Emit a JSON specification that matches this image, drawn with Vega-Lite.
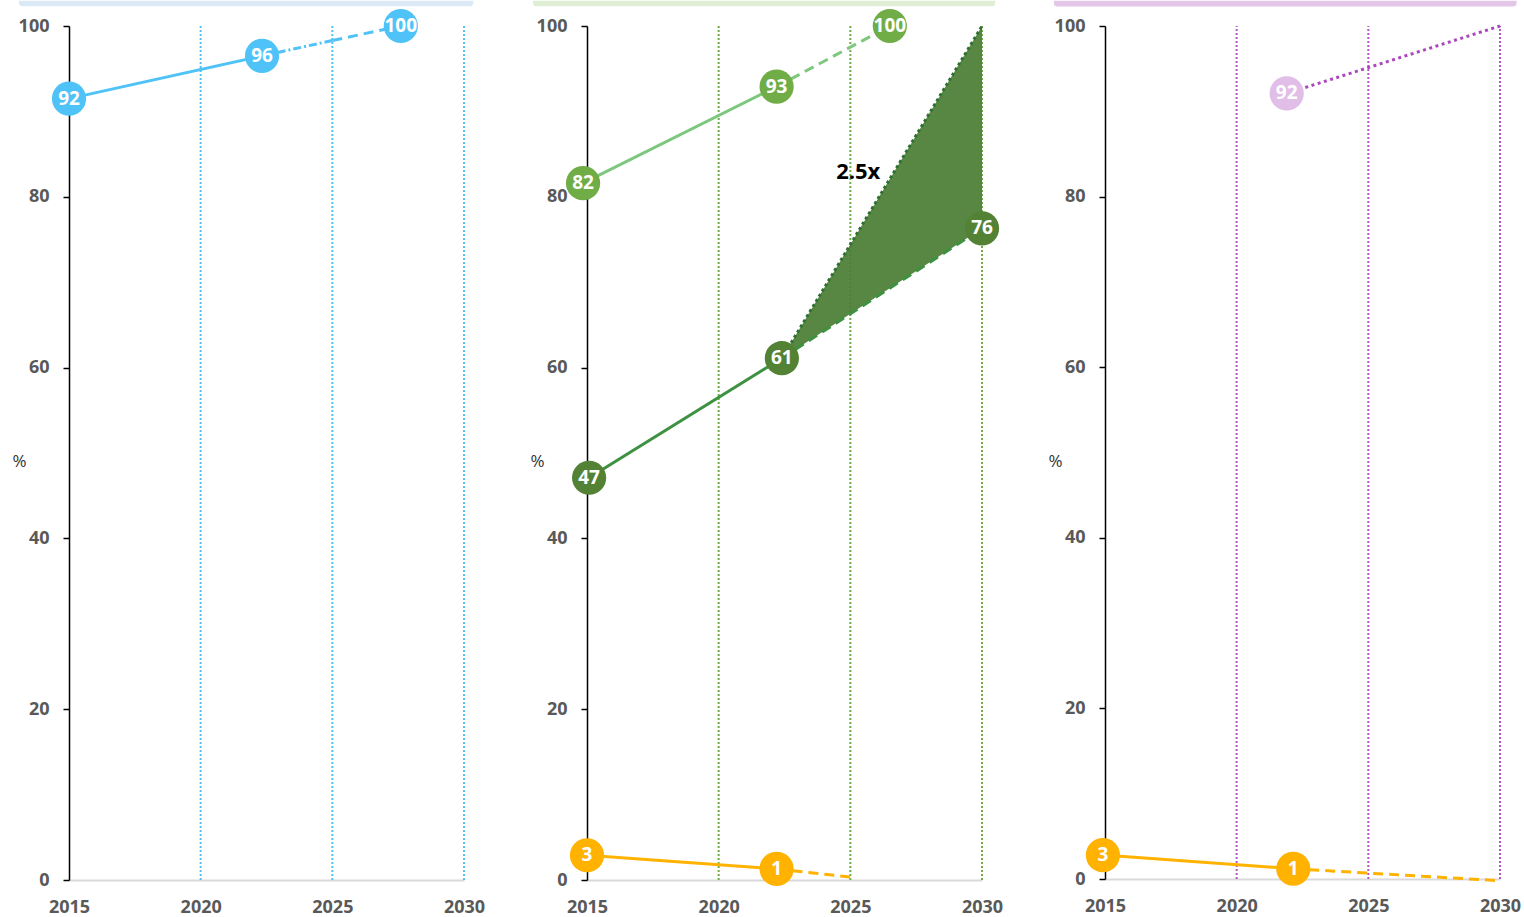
{
  "$schema": "https://vega.github.io/schema/vega-lite/v6.json",
  "background": "white",
  "padding": {"left": 11, "top": 0, "right": 0, "bottom": 0},
  "bounds": "flush",
  "spacing": 123,
  "config": {
    "view": {"stroke": null},
    "font": "Open Sans",
    "axisX": {"labelFontSize": 18, "labelFontWeight": "bold", "labelColor": "#595959", "domainColor": "#d9d9d9", "domainWidth": 2, "ticks": false, "tickSize": 0, "grid": false, "labelPadding": 18, "labelFlush": false, "title": null},
    "axisY": {"labelFontSize": 18, "labelFontWeight": "bold", "labelColor": "#595959", "domainColor": "#000000", "domainWidth": 1.5, "tickColor": "#000000", "tickSize": 6, "tickWidth": 1.5, "labelPadding": 14, "grid": false, "titleAngle": 0, "titleX": -50, "titleY": 435, "titleFontSize": 17, "titleFontWeight": "normal", "titleColor": "#333333", "titleAlign": "center", "titleBaseline": "middle"}
  },
  "datasets": {
    "p1": [
      {"seg": "strip", "year": 2013.1, "year2": 2030.35, "v": 102.3, "v2": 102.95},
      {"seg": "grid", "year": 2020, "v": 0, "v2": 100},
      {"seg": "grid", "year": 2025, "v": 0, "v2": 100},
      {"seg": "grid", "year": 2030, "v": 0, "v2": 100},
      {"seg": "solid", "year": 2015, "v": 91.5},
      {"seg": "solid", "year": 2022.33, "v": 96.5},
      {"seg": "dashdot", "year": 2022.33, "v": 96.5},
      {"seg": "dashdot", "year": 2025, "v": 98.3},
      {"seg": "dash", "year": 2025, "v": 98.3},
      {"seg": "dash", "year": 2027.6, "v": 100},
      {"seg": "pt", "year": 2015, "v": 91.5, "label": "92"},
      {"seg": "pt", "year": 2022.33, "v": 96.5, "label": "96"},
      {"seg": "pt", "year": 2027.6, "v": 100, "label": "100"}
    ],
    "p2": [
      {"seg": "strip", "year": 2012.95, "year2": 2030.5, "v": 102.3, "v2": 102.95},
      {"seg": "grid", "year": 2020, "v": 0, "v2": 100},
      {"seg": "grid", "year": 2025, "v": 0, "v2": 100},
      {"seg": "grid", "year": 2030, "v": 0, "v2": 100},
      {"seg": "band", "year": 2022.4, "v": 61.1, "v2": 61.1},
      {"seg": "band", "year": 2030, "v": 76.3, "v2": 100},
      {"seg": "lightSolid", "year": 2014.85, "v": 81.6},
      {"seg": "lightSolid", "year": 2022.2, "v": 92.9},
      {"seg": "lightDash", "year": 2022.2, "v": 92.9},
      {"seg": "lightDash", "year": 2026.5, "v": 100},
      {"seg": "darkSolid", "year": 2015.08, "v": 47.1},
      {"seg": "darkSolid", "year": 2022.4, "v": 61.1},
      {"seg": "darkDash", "year": 2022.4, "v": 61.1},
      {"seg": "darkDash", "year": 2030, "v": 76.3},
      {"seg": "darkDot", "year": 2022.4, "v": 61.1},
      {"seg": "darkDot", "year": 2030, "v": 100},
      {"seg": "orSolid", "year": 2015, "v": 2.9},
      {"seg": "orSolid", "year": 2022.2, "v": 1.3},
      {"seg": "orDash", "year": 2022.2, "v": 1.3},
      {"seg": "orDash", "year": 2025, "v": 0.35},
      {"seg": "ptLight", "year": 2014.85, "v": 81.6, "label": "82"},
      {"seg": "ptLight", "year": 2022.2, "v": 92.9, "label": "93"},
      {"seg": "ptLight", "year": 2026.5, "v": 100, "label": "100"},
      {"seg": "ptDark", "year": 2015.08, "v": 47.1, "label": "47"},
      {"seg": "ptDark", "year": 2022.4, "v": 61.1, "label": "61"},
      {"seg": "ptDark", "year": 2030, "v": 76.3, "label": "76"},
      {"seg": "ptOr", "year": 2015, "v": 2.9, "label": "3"},
      {"seg": "ptOr", "year": 2022.2, "v": 1.3, "label": "1"},
      {"seg": "note", "year": 2025.3, "v": 82.85, "label": "2.5x"}
    ],
    "p3": [
      {"seg": "strip", "year": 2013.06, "year2": 2030.63, "v": 102.3, "v2": 102.95},
      {"seg": "grid", "year": 2020, "v": 0, "v2": 100},
      {"seg": "grid", "year": 2025, "v": 0, "v2": 100},
      {"seg": "grid", "year": 2030, "v": 0, "v2": 100},
      {"seg": "purpDot", "year": 2021.9, "v": 92.1},
      {"seg": "purpDot", "year": 2030, "v": 100},
      {"seg": "orSolid", "year": 2014.92, "v": 2.8},
      {"seg": "orSolid", "year": 2022.15, "v": 1.2},
      {"seg": "orDash", "year": 2022.15, "v": 1.2},
      {"seg": "orDash", "year": 2030, "v": -0.2},
      {"seg": "ptPurp", "year": 2021.9, "v": 92.1, "label": "92"},
      {"seg": "ptOr", "year": 2014.92, "v": 2.8, "label": "3"},
      {"seg": "ptOr", "year": 2022.15, "v": 1.2, "label": "1"}
    ]
  },
  "hconcat": [
    {
      "width": 395, "height": 854,
      "data": {"name": "p1"},
      "encoding": {
        "x": {"field": "year", "type": "quantitative", "scale": {"domain": [2015, 2030], "nice": false, "zero": false}, "axis": {"values": [2015, 2020, 2025, 2030], "format": "d"}},
        "y": {"field": "v", "type": "quantitative", "scale": {"domain": [0, 100], "nice": false}, "axis": {"values": [0, 20, 40, 60, 80, 100]}, "title": "%"}
      },
      "layer": [
        {"transform": [{"filter": "datum.seg === 'strip'"}], "mark": {"type": "rect", "color": "#dbe8f5", "cornerRadiusBottomLeft": 6, "cornerRadiusBottomRight": 6}, "encoding": {"x2": {"field": "year2"}, "y2": {"field": "v2"}}},
        {"transform": [{"filter": "datum.seg === 'grid'"}], "mark": {"type": "rule", "color": "#4fc3f7", "strokeWidth": 2, "strokeDash": [2, 2]}, "encoding": {"y2": {"field": "v2"}}},
        {"transform": [{"filter": "datum.seg === 'solid'"}], "mark": {"type": "line", "color": "#4fc3f7", "strokeWidth": 3}, "encoding": {}},
        {"transform": [{"filter": "datum.seg === 'dashdot'"}], "mark": {"type": "line", "color": "#4fc3f7", "strokeWidth": 3, "strokeDash": [8, 3, 2, 3]}, "encoding": {}},
        {"transform": [{"filter": "datum.seg === 'dash'"}], "mark": {"type": "line", "color": "#4fc3f7", "strokeWidth": 3, "strokeDash": [10, 6]}, "encoding": {}},
        {"transform": [{"filter": "datum.seg === 'pt'"}], "mark": {"type": "circle", "size": 1170, "opacity": 1, "color": "#4fc3f7"}},
        {"transform": [{"filter": "datum.seg === 'pt'"}], "mark": {"type": "text", "color": "white", "fontWeight": "bold", "fontSize": 19, "baseline": "middle"}, "encoding": {"text": {"field": "label"}}}
      ]
    },
    {
      "width": 395, "height": 854,
      "data": {"name": "p2"},
      "encoding": {
        "x": {"field": "year", "type": "quantitative", "scale": {"domain": [2015, 2030], "nice": false, "zero": false}, "axis": {"values": [2015, 2020, 2025, 2030], "format": "d"}},
        "y": {"field": "v", "type": "quantitative", "scale": {"domain": [0, 100], "nice": false}, "axis": {"values": [0, 20, 40, 60, 80, 100]}, "title": "%"}
      },
      "layer": [
        {"transform": [{"filter": "datum.seg === 'strip'"}], "mark": {"type": "rect", "color": "#e0eed6", "cornerRadiusBottomLeft": 6, "cornerRadiusBottomRight": 6}, "encoding": {"x2": {"field": "year2"}, "y2": {"field": "v2"}}},
        {"transform": [{"filter": "datum.seg === 'grid'"}], "mark": {"type": "rule", "color": "#70ad47", "strokeWidth": 2, "strokeDash": [2, 2]}, "encoding": {"y2": {"field": "v2"}}},
        {"transform": [{"filter": "datum.seg === 'band'"}], "mark": {"type": "area", "color": "#4a7d33", "opacity": 0.92}, "encoding": {"y2": {"field": "v2"}}},
        {"transform": [{"filter": "datum.seg === 'lightSolid'"}], "mark": {"type": "line", "color": "#7dc77f", "strokeWidth": 3}, "encoding": {}},
        {"transform": [{"filter": "datum.seg === 'lightDash'"}], "mark": {"type": "line", "color": "#7dc77f", "strokeWidth": 3, "strokeDash": [10, 6]}, "encoding": {}},
        {"transform": [{"filter": "datum.seg === 'darkSolid'"}], "mark": {"type": "line", "color": "#3d9140", "strokeWidth": 3}, "encoding": {}},
        {"transform": [{"filter": "datum.seg === 'darkDash'"}], "mark": {"type": "line", "color": "#3d9140", "strokeWidth": 3, "strokeDash": [10, 6]}, "encoding": {}},
        {"transform": [{"filter": "datum.seg === 'darkDot'"}], "mark": {"type": "line", "color": "#2e7031", "strokeWidth": 3, "strokeDash": [3, 3]}, "encoding": {}},
        {"transform": [{"filter": "datum.seg === 'orSolid'"}], "mark": {"type": "line", "color": "#ffb300", "strokeWidth": 3}, "encoding": {}},
        {"transform": [{"filter": "datum.seg === 'orDash'"}], "mark": {"type": "line", "color": "#ffb300", "strokeWidth": 3, "strokeDash": [10, 6]}, "encoding": {}},
        {"transform": [{"filter": "datum.seg === 'ptLight'"}], "mark": {"type": "circle", "size": 1170, "opacity": 1, "color": "#70ad47"}},
        {"transform": [{"filter": "datum.seg === 'ptDark'"}], "mark": {"type": "circle", "size": 1170, "opacity": 1, "color": "#548235"}},
        {"transform": [{"filter": "datum.seg === 'ptOr'"}], "mark": {"type": "circle", "size": 1170, "opacity": 1, "color": "#ffb300"}},
        {"transform": [{"filter": "datum.seg === 'ptLight' || datum.seg === 'ptDark' || datum.seg === 'ptOr'"}], "mark": {"type": "text", "color": "white", "fontWeight": "bold", "fontSize": 19, "baseline": "middle"}, "encoding": {"text": {"field": "label"}}},
        {"transform": [{"filter": "datum.seg === 'note'"}], "mark": {"type": "text", "color": "black", "fontWeight": "bold", "fontSize": 22, "baseline": "middle"}, "encoding": {"text": {"field": "label"}}}
      ]
    },
    {
      "width": 395, "height": 853,
      "data": {"name": "p3"},
      "encoding": {
        "x": {"field": "year", "type": "quantitative", "scale": {"domain": [2015, 2030], "nice": false, "zero": false}, "axis": {"values": [2015, 2020, 2025, 2030], "format": "d"}},
        "y": {"field": "v", "type": "quantitative", "scale": {"domain": [0, 100], "nice": false}, "axis": {"values": [0, 20, 40, 60, 80, 100]}, "title": "%"}
      },
      "layer": [
        {"transform": [{"filter": "datum.seg === 'strip'"}], "mark": {"type": "rect", "color": "#e4c6e9", "cornerRadiusBottomLeft": 6, "cornerRadiusBottomRight": 6}, "encoding": {"x2": {"field": "year2"}, "y2": {"field": "v2"}}},
        {"transform": [{"filter": "datum.seg === 'grid'"}], "mark": {"type": "rule", "color": "#b455c6", "strokeWidth": 2, "strokeDash": [2, 2]}, "encoding": {"y2": {"field": "v2"}}},
        {"transform": [{"filter": "datum.seg === 'purpDot'"}], "mark": {"type": "line", "color": "#ab47bc", "strokeWidth": 3, "strokeDash": [3, 3.5]}, "encoding": {}},
        {"transform": [{"filter": "datum.seg === 'orSolid'"}], "mark": {"type": "line", "color": "#ffb300", "strokeWidth": 3}, "encoding": {}},
        {"transform": [{"filter": "datum.seg === 'orDash'"}], "mark": {"type": "line", "color": "#ffb300", "strokeWidth": 3, "strokeDash": [10, 6]}, "encoding": {}},
        {"transform": [{"filter": "datum.seg === 'ptPurp'"}], "mark": {"type": "circle", "size": 1170, "opacity": 1, "color": "#e1bee7"}},
        {"transform": [{"filter": "datum.seg === 'ptOr'"}], "mark": {"type": "circle", "size": 1170, "opacity": 1, "color": "#ffb300"}},
        {"transform": [{"filter": "datum.seg === 'ptPurp' || datum.seg === 'ptOr'"}], "mark": {"type": "text", "color": "white", "fontWeight": "bold", "fontSize": 19, "baseline": "middle"}, "encoding": {"text": {"field": "label"}}}
      ]
    }
  ]
}
